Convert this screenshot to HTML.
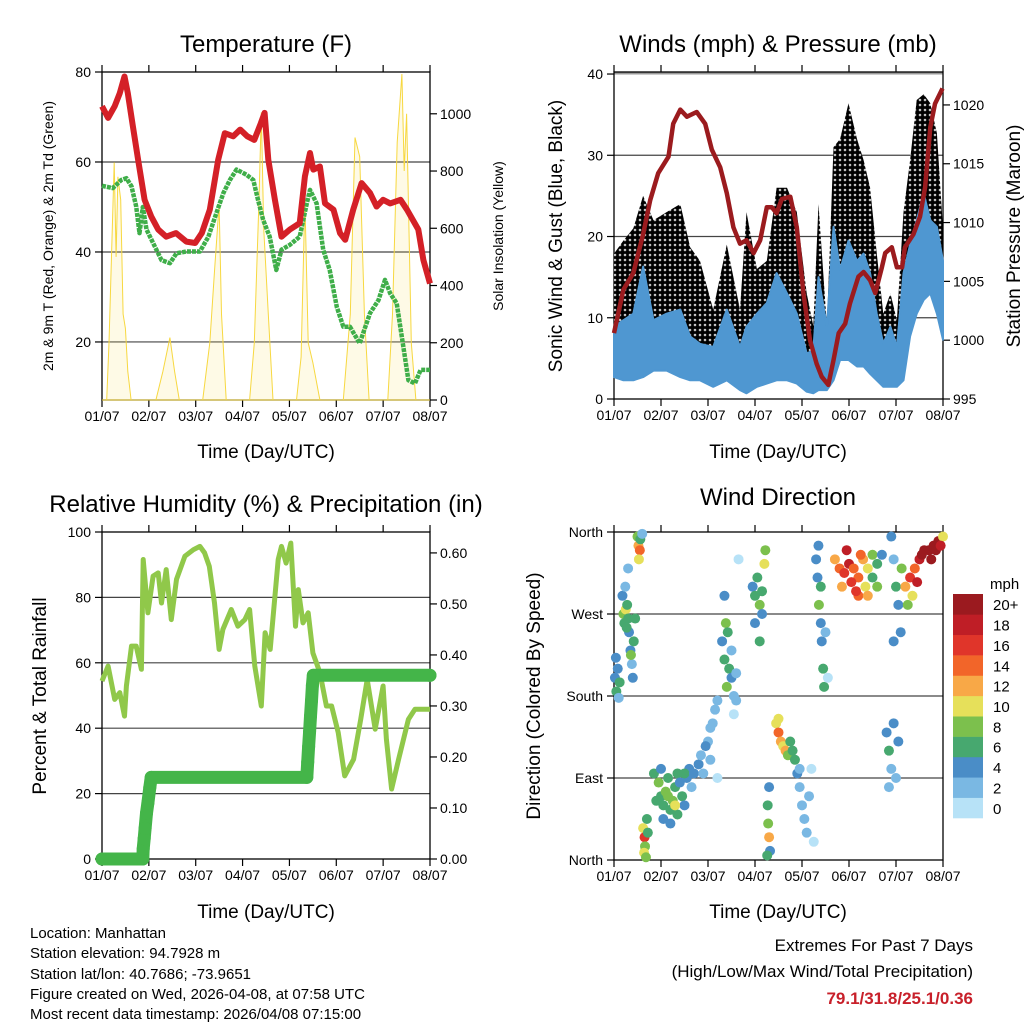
<!DOCTYPE html>
<html><head><meta charset="utf-8">
<style>
html,body{margin:0;padding:0;background:#fff;}
svg{display:block;font-family:"Liberation Sans",sans-serif;}
</style></head>
<body>
<svg id="c" width="1024" height="1024" viewBox="0 0 1024 1024" xmlns="http://www.w3.org/2000/svg">
<defs>
<pattern id="dots" width="5" height="5" patternUnits="userSpaceOnUse">
<rect width="5" height="5" fill="#fff"/>
<circle cx="2.5" cy="2.5" r="2.6" fill="#000"/>
</pattern>
</defs>
<rect width="1024" height="1024" fill="#fff"/>
<text x="266" y="52" font-size="24" text-anchor="middle">Temperature (F)</text>
<text x="778" y="52" font-size="24" text-anchor="middle">Winds (mph) &amp; Pressure (mb)</text>
<text x="266" y="512" font-size="24" text-anchor="middle">Relative Humidity (%) &amp; Precipitation (in)</text>
<text x="778" y="505" font-size="24" text-anchor="middle">Wind Direction</text>
<text x="266" y="458" font-size="19" text-anchor="middle">Time (Day/UTC)</text>
<text x="778" y="458" font-size="19" text-anchor="middle">Time (Day/UTC)</text>
<text x="266" y="918" font-size="19" text-anchor="middle">Time (Day/UTC)</text>
<text x="778" y="918" font-size="19" text-anchor="middle">Time (Day/UTC)</text>
<text transform="translate(53,236) rotate(-90)" font-size="14" text-anchor="middle">2m &amp; 9m T (Red, Orange) &amp; 2m Td (Green)</text>
<text transform="translate(503,236) rotate(-90)" font-size="14" text-anchor="middle">Solar Insolation (Yellow)</text>
<text transform="translate(562,236) rotate(-90)" font-size="19" text-anchor="middle">Sonic Wind &amp; Gust (Blue, Black)</text>
<text transform="translate(1020,236) rotate(-90)" font-size="19" text-anchor="middle">Station Pressure (Maroon)</text>
<text transform="translate(46,696) rotate(-90)" font-size="19" text-anchor="middle">Percent &amp; Total Rainfall</text>
<text transform="translate(540,696) rotate(-90)" font-size="19" text-anchor="middle">Direction (Colored By Speed)</text>
<g font-size="15">
<text x="30" y="938">Location: Manhattan</text>
<text x="30" y="958">Station elevation: 94.7928 m</text>
<text x="30" y="979">Station lat/lon: 40.7686; -73.9651</text>
<text x="30" y="999">Figure created on Wed, 2026-04-08, at 07:58 UTC</text>
<text x="30" y="1019">Most recent data timestamp: 2026/04/08 07:15:00</text>
</g>
<g font-size="17" text-anchor="end">
<text x="973" y="951">Extremes For Past 7 Days</text>
<text x="973" y="977">(High/Low/Max Wind/Total Precipitation)</text>
<text x="973" y="1004" fill="#c8202a" font-weight="bold">79.1/31.8/25.1/0.36</text>
</g>
</svg>
<script>
// ---------- data ----------
var dateLabels = ["01/07","02/07","03/07","04/07","05/07","06/07","07/07","08/07"];
var tempDays = [0,0.13,0.27,0.38,0.48,0.55,0.66,0.77,0.91,1.05,1.2,1.37,1.58,1.8,1.99,2.13,2.3,2.48,2.62,2.8,2.95,3.1,3.25,3.39,3.47,3.55,3.69,3.83,4.01,4.22,4.33,4.44,4.51,4.65,4.76,4.94,5.08,5.19,5.36,5.54,5.72,5.86,6.0,6.15,6.37,6.51,6.75,6.86,7.0];
var tempVals = [72.4,69.8,72.4,75.3,79,75.3,67.9,60.5,51.6,47.9,45,43.4,44.2,42.3,42,44.2,49.4,60.5,66.4,65.7,67.2,65.7,64.9,68.6,70.9,60.5,51.6,43.4,45,46.4,56.8,62,58.3,59,50.8,49.4,44.2,42.7,49.4,55.3,53.1,50.1,51.6,50.8,51.6,49.4,45,38.2,33];
var dewDays = [0,0.23,0.41,0.52,0.63,0.73,0.8,0.87,0.95,1.09,1.27,1.45,1.59,1.8,2.09,2.27,2.44,2.59,2.73,2.87,3.08,3.23,3.33,3.44,3.58,3.72,3.83,4.01,4.22,4.37,4.44,4.58,4.72,4.86,5.01,5.15,5.29,5.5,5.72,5.9,6.04,6.15,6.29,6.43,6.54,6.68,6.8,7.0];
var dewVals = [54.7,54.2,56,56.4,54.6,50.1,44.2,50,45,42,38.2,37.5,39.7,40.1,40.1,43.4,48.6,53.1,56,58.3,57.2,56,51.6,47.1,43.4,36,40.5,41.6,43.4,50.8,53.8,50.8,40.5,36,27.8,23.4,23.4,19.7,26.4,29.3,33.8,30.8,28.6,19,11.5,10.8,13.8,13.8];
var solarDays = [0,0.1,0.15,0.22,0.26,0.3,0.34,0.4,0.45,0.5,0.55,0.62,1.15,1.3,1.45,1.55,1.65,2.15,2.3,2.4,2.5,2.55,2.65,3.15,3.25,3.35,3.4,3.45,3.55,3.65,4.15,4.25,4.33,4.4,4.5,4.65,5.15,5.3,5.4,5.5,5.6,5.7,6.1,6.2,6.3,6.4,6.45,6.5,6.6,6.7,7];
var solarVals = [0,0,200,600,830,500,780,700,300,250,100,0,0,100,218,100,0,0,200,450,684,300,0,0,200,700,1005,600,300,0,0,150,700,200,130,0,0,300,917,850,300,0,0,300,900,1139,800,1000,200,0,0];

var windDays = [0,0.2,0.41,0.62,0.84,1.12,1.41,1.62,1.83,2.11,2.4,2.68,2.82,3.04,3.25,3.46,3.68,3.89,4.1,4.24,4.35,4.53,4.67,4.81,4.99,5.17,5.31,5.45,5.59,5.73,5.88,6.02,6.16,6.3,6.44,6.59,6.73,6.87,7];
var gustVals = [17.9,19.5,21,25,22,23,24,18.7,17,11,19,11,23,16,17,26,26,23,13,9,24,9,31,32,36.4,32,29.4,26,18,10.5,13,9.7,23,29.4,36.8,37.5,36.4,32.7,21];
var windHigh = [8.9,9.7,10.5,16.3,9.7,10.5,11,7.7,6.8,6.4,11,6.4,8.9,10.5,11.8,15.5,13,10.5,5.6,6,15,8.9,21.2,15.9,19.5,17,17.9,15.5,10.5,6.8,8.9,6.4,15.5,19,22,25.3,22,21.2,17];
var windLow = [2.7,2.3,2.3,2.7,3.5,3.5,2.7,2.3,2.3,1.5,2.3,1.1,0.7,1.5,1.9,2.3,2.3,1.9,0.9,0.7,1.1,1.1,2.3,4.8,4.8,4,4,3.1,2.3,1.5,1.5,1.5,2.3,7.7,10.5,12.2,13,10.5,7.3];
var presDays = [0,0.2,0.41,0.62,0.77,0.94,1.16,1.26,1.41,1.55,1.76,1.94,2.08,2.26,2.4,2.54,2.68,2.82,2.97,3.11,3.25,3.36,3.46,3.57,3.75,3.89,4.03,4.17,4.31,4.42,4.56,4.67,4.78,4.92,5.02,5.2,5.31,5.45,5.56,5.7,5.77,5.91,6.02,6.13,6.19,6.37,6.51,6.62,6.73,6.83,6.99];
var presVals = [1000.6,1004.3,1005.7,1009,1011.9,1014.2,1015.6,1018.4,1019.6,1019,1019.4,1018.4,1016.2,1014.7,1012.5,1009.6,1008.2,1008.5,1007.4,1008.5,1011.3,1011.3,1010.8,1012,1012.2,1009.6,1004,1000,998,996.9,996.2,998.3,1000.6,1001.4,1003.1,1005.4,1005.8,1005.1,1004,1006.2,1007.4,1007.9,1006.2,1006.2,1007.9,1009,1010.5,1013,1018.1,1020.1,1021.4];

var rhDays = [0,0.13,0.27,0.38,0.48,0.52,0.63,0.73,0.84,0.88,0.98,1.09,1.2,1.27,1.37,1.48,1.59,1.77,1.95,2.09,2.19,2.29,2.4,2.5,2.58,2.76,2.9,3.05,3.15,3.26,3.4,3.48,3.59,3.76,3.83,3.93,4.03,4.13,4.19,4.29,4.4,4.5,4.65,4.79,4.9,5.04,5.18,5.37,5.52,5.66,5.83,6.0,6.07,6.18,6.33,6.54,6.68,6.82,7.0];
var rhVals = [54.4,59,48.8,50.9,43.7,52.9,65.1,65.1,58,91.6,75.3,86.5,87.5,78.3,88.5,73.2,85.5,92.6,94.6,95.6,93.6,89.5,78.3,64.1,70.2,76.3,71.2,73.2,76.3,59,46.8,69.2,64.1,91.6,95.6,90.5,96.6,71.2,82.4,72.2,75.3,63,57,46.8,46.8,38.7,25.4,30.5,42.7,54.9,39.7,52.9,36.6,21.4,30.5,42.7,45.8,45.8,45.8];
var precipDays = [0,0.87,0.88,0.9,0.92,0.95,0.98,1.02,1.05,4.37,4.39,4.41,4.43,4.45,4.47,4.49,4.51,7];
var precipVals = [0,0,0.02,0.04,0.06,0.09,0.11,0.14,0.16,0.16,0.19,0.22,0.25,0.28,0.31,0.34,0.36,0.36];

var dirDays = [0.02,0.05,0.08,0.1,0.12,0.04, 0.2,0.22,0.25,0.28,0.3,0.18,0.24,0.32,0.35,0.38,0.4,0.42,0.45,0.3,0.36,0.27, 0.5,0.52,0.55,0.53,0.56,0.6, 0.62,0.65,0.66,0.64,0.68,0.7,0.72, 0.85,0.95,1.0,1.05,1.1,1.15,1.2,1.25,1.3,1.35,1.4,1.45,1.5,1.55,1.6,1.65,0.9,1.05,1.2,1.35,1.5,1.7,1.0,1.3,1.15, 1.8,1.85,1.9,2.0,2.05,2.1,2.15,2.2,1.95,2.05,2.2, 2.3,2.35,2.4,2.45,2.5,2.55,2.6,2.35,2.38,2.42,2.5,2.6,2.55,2.65, 2.95,3.0,3.05,3.1,3.15,3.2,3.22,3.0,3.1,3.15, 3.27,3.28,3.3,3.32,3.3,3.26, 3.45,3.5,3.55,3.6,3.65,3.7,3.75,3.8,3.5,3.85, 3.9,3.95,4.0,4.05,4.1,4.15,4.2,4.25,3.95, 4.3,4.33,4.36,4.4,4.42,4.45,4.47,4.4,4.35,4.5,4.55, 4.7,4.8,4.9,5.0,5.1,5.2,5.3,5.4,5.5,4.85,5.05,5.2,5.35,5.5,5.6,4.95,5.25,5.15,5.4,5.6,5.7, 5.9,5.95,6.0,6.05,6.1,5.95,6.12, 5.8,5.85,5.9,5.95,6.0,6.05,5.85, 6.2,6.3,6.4,6.5,6.6,6.7,6.8,6.9,7.0,6.45,6.55,6.75,6.35,6.25,6.85,6.95];
var dirDegs = [200,185,210,178,195,222, 270,260,275,280,265,290,300,250,230,215,200,240,265,320,225,255, 355,345,340,330,352,358, 35,25,15,8,3,45,30, 95,85,70,60,75,90,55,65,80,95,85,70,60,90,100,80,65,45,40,50,95,95,100,60,70, 105,115,95,130,145,150,165,175,125,110,90, 240,220,190,210,200,180,175,290,260,250,230,205,160,330, 300,290,310,280,295,325,340,260,240,270, 60,40,25,10,80,5, 150,140,130,125,120,115,130,120,155,110, 95,80,60,45,30,70,100,20,100, 330,310,280,260,240,210,190,300,345,250,200, 330,320,315,325,320,310,330,320,335,300,305,290,300,310,325,340,335,295,290,300,335, 355,330,300,280,250,240,320, 140,120,100,150,90,130,80, 300,310,320,330,340,340,345,350,355,305,335,330,290,280,340,345];
var dirSpeeds = [5,6,4,3,6,4, 8,6,10,6,7,4,3,5,4,3,4,7,6,3,8,7, 8,12,14,10,6,2, 10,16,8,10,8,6,7, 7,8,7,6,8,7,6,9,7,6,5,7,5,4,4,3,6,5,4,6,6,4,5,10,8, 4,3,2,2,3,2,2,2,4,3,1, 4,6,8,6,4,3,2,5,8,7,2,2,0,1, 5,6,7,8,6,10,8,4,6,5, 6,8,12,5,4,6, 10,14,12,10,12,8,6,7,10,6, 4,2,2,3,2,2,1,1,3, 4,5,8,4,5,6,7,6,4,3,1, 12,14,16,18,15,14,12,10,8,12,16,14,10,6,6,18,14,16,12,8,5, 4,3,6,4,5,4,8, 4,6,3,4,2,4,2, 12,16,14,18,20,22,20,20,10,18,20,20,10,8,22,18];
var speedLabels = ["0","2","4","6","8","10","12","14","16","18","20+"];
var speedColors = ["#b7e2f7","#7ab8e3","#4a8dc7","#47a86f","#7cc04d","#e6e05a","#f8a847","#f26529","#e0352a","#bf1e26","#9b1a1f"];

// ---------- helpers ----------
var NS = "http://www.w3.org/2000/svg";
var svg = document.getElementById("c");
function mk(tag, attrs, parent){
  var e = document.createElementNS(NS, tag);
  for (var k in attrs) e.setAttribute(k, attrs[k]);
  (parent || svg).appendChild(e);
  return e;
}
function txt(x, y, s, size, anchor, parent){
  var t = mk("text", {x:x, y:y, "font-size":size, "text-anchor":anchor}, parent);
  t.textContent = s;
  return t;
}
function panel(L, R, T, B){ return {L:L,R:R,T:T,B:B,x:function(d){return L+(R-L)*d/7;}}; }
function yS(p, lo, hi){ return function(v){ return p.B-(v-lo)/(hi-lo)*(p.B-p.T); }; }

function frame(p, name){
  var g = mk("g", {});
  
  
  for (var i=0;i<8;i++){
    var x = p.x(i);
    mk("line",{x1:x,x2:x,y1:p.B,y2:p.B+7,stroke:"#000","stroke-width":1.2},g);
    mk("line",{x1:x,x2:x,y1:p.T,y2:p.T-7,stroke:"#000","stroke-width":1.2},g);
    var t = txt(x, p.B+21, dateLabels[i], 14, "middle", g);
    
    
  }
  return g;
}
function border(p, g){
  mk("rect",{x:p.L,y:p.T,width:p.R-p.L,height:p.B-p.T,fill:"none",stroke:"#000","stroke-width":1.3},g);
}
function grid(p, ys, g){
  ys.forEach(function(y){ mk("line",{x1:p.L,x2:p.R,y1:y,y2:y,stroke:"#444","stroke-width":1.2},g); });
}
function leftTicks(p, vals, ys, labels, g){
  vals.forEach(function(v,i){
    mk("line",{x1:p.L-7,x2:p.L,y1:ys[i],y2:ys[i],stroke:"#000","stroke-width":1.2},g);
    var t = txt(p.L-11, ys[i]+5, labels[i], 14, "end", g);
    
    
  });
}
function rightTicks(p, ys, labels, g){
  ys.forEach(function(y,i){
    mk("line",{x1:p.R,x2:p.R+7,y1:y,y2:y,stroke:"#000","stroke-width":1.2},g);
    var t = txt(p.R+10, y+5, labels[i], 14, "start", g);
    
    
  });
}
function pathD(xs, ys){ return xs.map(function(x,i){return (i?"L":"M")+x.toFixed(1)+","+ys[i].toFixed(1);}).join(""); }

// ---------- Temperature panel ----------
var p1 = panel(102,430,72,400);
var tY = yS(p1, 7.1, 80), sY = yS(p1, 0, 1146);
var g1 = frame(p1, "temperature");
grid(p1, [20,40,60].map(tY), g1);
leftTicks(p1, [80,60,40,20], [80,60,40,20].map(tY), ["80","60","40","20"], g1);
rightTicks(p1, [0,200,400,600,800,1000].map(sY), ["0","200","400","600","800","1000"], g1);
var solX = solarDays.map(p1.x), solY = solarVals.map(sY);
var solar = mk("path",{d:pathD(solX,solY)+"Z", fill:"rgba(250,222,80,0.14)", stroke:"#f7d840","stroke-width":1});


var dew = mk("path",{d:pathD(dewDays.map(p1.x), dewVals.map(tY)), fill:"none", stroke:"#3fae49","stroke-width":4.5,"stroke-dasharray":"4 1","stroke-linejoin":"round"});


var temp = mk("path",{d:pathD(tempDays.map(p1.x), tempVals.map(tY)), fill:"none", stroke:"#d42027","stroke-width":6,"stroke-linejoin":"round"});


border(p1, g1);

// ---------- Wind panel ----------
var p2 = panel(614,943,72,399);
var wY = yS(p2, 0, 40.25), pY = yS(p2, 995, 1022.8);
var g2 = frame(p2, "winds");
grid(p2, [10,20,30].map(wY), g2);
mk("line",{x1:p2.L,x2:p2.R,y1:wY(40)-1,y2:wY(40)-1,stroke:"#999","stroke-width":3},g2);
leftTicks(p2, [0,10,20,30,40], [0,10,20,30,40].map(wY), ["0","10","20","30","40"], g2);
rightTicks(p2, [995,1000,1005,1010,1015,1020].map(pY), ["995","1000","1005","1010","1015","1020"], g2);
var wx = windDays.map(p2.x);
var gTop = pathD(wx, gustVals.map(wY));
var gBot = pathD(wx.slice().reverse(), windLow.slice().reverse().map(wY)).replace("M","L");
var gust = mk("path",{d:gTop+gBot+"Z", fill:"url(#dots)", stroke:"none"});


var bTop = pathD(wx, windHigh.map(wY));
var bBot = pathD(wx.slice().reverse(), windLow.slice().reverse().map(wY)).replace("M","L");
var sonic = mk("path",{d:bTop+bBot+"Z", fill:"#4f97d1", stroke:"#4f97d1","stroke-width":2,"stroke-linejoin":"round"});


var pres = mk("path",{d:pathD(presDays.map(p2.x), presVals.map(pY)), fill:"none", stroke:"#9b1b1e","stroke-width":4.5,"stroke-linejoin":"round"});


border(p2, g2);

// ---------- RH panel ----------
var p3 = panel(102,430,532,859);
var rY = yS(p3, 0, 100), qY = yS(p3, 0, 0.641);
var g3 = frame(p3, "humidity");
grid(p3, [20,40,60,80].map(rY), g3);
leftTicks(p3, [0,20,40,60,80,100], [0,20,40,60,80,100].map(rY), ["0","20","40","60","80","100"], g3);
rightTicks(p3, [0,0.1,0.2,0.3,0.4,0.5,0.6].map(qY), ["0.00","0.10","0.20","0.30","0.40","0.50","0.60"], g3);
var rh = mk("path",{d:pathD(rhDays.map(p3.x), rhVals.map(rY)), fill:"none", stroke:"#90c84a","stroke-width":5,"stroke-linejoin":"round"});


var px = precipDays.map(p3.x), py = precipVals.map(qY);
var pl = mk("path",{d:pathD(px,py), fill:"none", stroke:"#44b549","stroke-width":13,"stroke-linecap":"round","stroke-linejoin":"round"});


px.forEach(function(x,i){
  var c = mk("circle",{cx:x, cy:py[i], r:6.5, fill:"#44b549"});
  
  
});
border(p3, g3);

// ---------- Wind direction panel ----------
var p4 = panel(614,943,532,860);
var dY = yS(p4, 0, 360);
var g4 = frame(p4, "wind-direction");
grid(p4, [90,180,270].map(dY), g4);
leftTicks(p4, [0,90,180,270,360], [0,90,180,270,360].map(dY), ["North","East","South","West","North"], g4);
dirDays.forEach(function(d,i){
  var bin = Math.min(10, Math.floor(dirSpeeds[i]/2));
  var c = mk("circle",{cx:p4.x(d), cy:dY(dirDegs[i]), r:5, fill:speedColors[bin]});
  
  
});
border(p4, g4);

// colorbar
var cb = mk("g",{});


var ct = txt(990, 589, "mph", 15, "start", cb);


var bh = (818-594)/11;
speedLabels.forEach(function(l,i){
  var y = 818 - (i+1)*bh;
  var r = mk("rect",{x:953, y:y, width:30, height:bh+0.3, fill:speedColors[i]}, cb);
  
  
  var t = txt(993, y+bh/2+6, l, 15, "start", cb);
  
  
});
</script>
</body></html>
